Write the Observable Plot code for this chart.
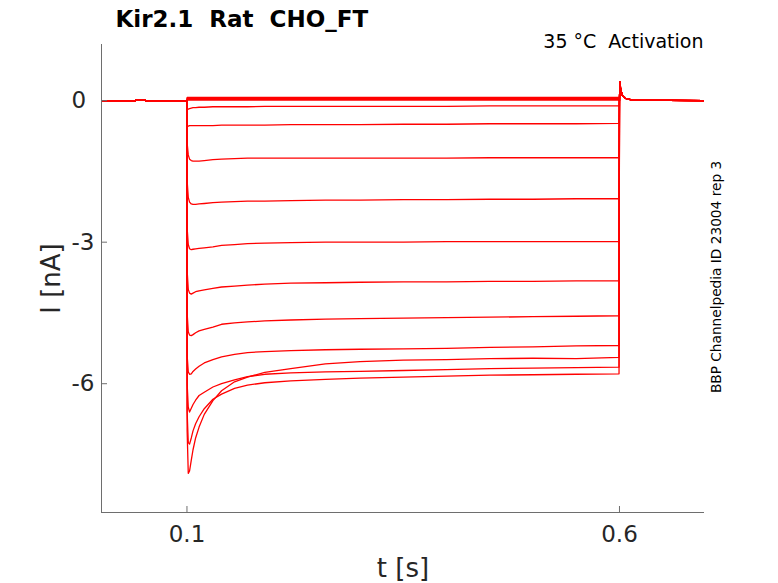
<!DOCTYPE html>
<html><head><meta charset="utf-8">
<script src="https://cdn.jsdelivr.net/npm/d3@7"></script>
<script src="https://cdn.jsdelivr.net/npm/@observablehq/plot@0.6"></script>
<style>body{margin:0;background:#fff;} svg{display:block;}</style>
</head><body><div id="chart"></div>
<script>
const title = "Kir2.1  Rat  CHO_FT";
const subtitle = "35 °C  Activation";
const sideNote = "BBP Channelpedia ID 23004 rep 3";
const xLabel = "t [s]";
const yLabel = "I [nA]";
const xTicks = [0.1, 0.6];
const xTickLabels = ["0.1", "0.6"];
const yTicks = [-6, -3, 0];
const yTickLabels = ["-6", "-3", "0"];
const xDomain = [0.0012, 0.6983];
const yDomain = [-8.73, 1.19];

// baseline before the step, common to all sweeps
const tPre = [0.0012, 0.0405, 0.0410, 0.0515, 0.0520, 0.1000];
const iPre = [0, 0, 0.02, 0.02, 0, 0];
// sample times during the voltage step
const tStep = [0.1002, 0.1015, 0.103, 0.105, 0.107, 0.11, 0.114, 0.12, 0.13, 0.14, 0.155, 0.17, 0.19, 0.22, 0.26, 0.3, 0.35, 0.4, 0.45, 0.5, 0.55, 0.5995];
// tail after the step, common to all sweeps
const tPost = [0.6000, 0.6005, 0.6012, 0.6030, 0.6070, 0.6150, 0.6983];
const iPost = [0.00, 0.40, 0.27, 0.12, 0.05, 0.01, 0.00];

// current (nA) of each sweep during the step
const sweep01 = [0.07,0.07,0.07,0.07,0.07,0.07,0.07,0.07,0.07,0.07,0.07,0.07,0.07,0.07,0.07,0.07,0.07,0.07,0.07,0.07,0.07,0.07];
const sweep02 = [0.05,0.05,0.05,0.05,0.05,0.05,0.05,0.05,0.05,0.05,0.05,0.05,0.05,0.05,0.05,0.05,0.05,0.05,0.05,0.05,0.05,0.05];
const sweep03 = [0.03,0.03,0.03,0.03,0.03,0.03,0.03,0.03,0.03,0.03,0.03,0.03,0.03,0.03,0.03,0.03,0.03,0.03,0.03,0.03,0.03,0.03];
const sweep04 = [0.01,0.01,0.01,0.01,0.01,0.01,0.01,0.01,0.01,0.01,0.01,0.01,0.01,0.01,0.01,0.01,0.01,0.01,0.01,0.01,0.01,0.01];
const sweep05 = [-0.19,-0.18,-0.17,-0.16,-0.15,-0.15,-0.14,-0.14,-0.13,-0.13,-0.13,-0.13,-0.12,-0.12,-0.12,-0.12,-0.12,-0.12,-0.11,-0.11,-0.11,-0.11];
const sweep06 = [-0.55,-0.54,-0.53,-0.53,-0.53,-0.53,-0.53,-0.53,-0.53,-0.52,-0.52,-0.52,-0.52,-0.51,-0.51,-0.51,-0.50,-0.50,-0.49,-0.49,-0.49,-0.48];
const sweep07 = [-0.90,-1.15,-1.24,-1.27,-1.28,-1.28,-1.28,-1.27,-1.25,-1.24,-1.23,-1.22,-1.22,-1.22,-1.22,-1.22,-1.22,-1.22,-1.21,-1.21,-1.21,-1.21];
const sweep08 = [-1.70,-2.05,-2.15,-2.19,-2.20,-2.20,-2.19,-2.18,-2.16,-2.15,-2.14,-2.13,-2.13,-2.12,-2.11,-2.11,-2.10,-2.10,-2.09,-2.09,-2.08,-2.08];
const sweep09 = [-2.70,-3.05,-3.14,-3.16,-3.15,-3.14,-3.13,-3.12,-3.10,-3.07,-3.05,-3.03,-3.02,-3.01,-3.00,-3.00,-3.00,-2.99,-2.99,-2.99,-2.99,-2.99];
const sweep10 = [-3.60,-4.00,-4.08,-4.10,-4.08,-4.05,-4.03,-4.01,-3.98,-3.95,-3.93,-3.91,-3.89,-3.87,-3.86,-3.85,-3.84,-3.84,-3.83,-3.83,-3.82,-3.82];
const sweep11 = [-4.50,-4.90,-4.97,-4.98,-4.96,-4.92,-4.88,-4.85,-4.80,-4.74,-4.71,-4.69,-4.67,-4.65,-4.63,-4.62,-4.61,-4.60,-4.59,-4.58,-4.57,-4.56];
const sweep12 = [-5.40,-5.75,-5.80,-5.79,-5.74,-5.69,-5.63,-5.56,-5.49,-5.43,-5.38,-5.34,-5.32,-5.30,-5.28,-5.27,-5.26,-5.25,-5.23,-5.22,-5.20,-5.19];
const sweep13 = [-6.00,-6.50,-6.60,-6.52,-6.44,-6.35,-6.25,-6.18,-6.07,-6.00,-5.92,-5.85,-5.80,-5.77,-5.75,-5.74,-5.72,-5.70,-5.68,-5.67,-5.66,-5.65];
const sweep14 = [-6.60,-7.25,-7.28,-7.15,-7.00,-6.85,-6.70,-6.53,-6.33,-6.22,-6.10,-6.03,-5.98,-5.94,-5.91,-5.88,-5.86,-5.84,-5.82,-5.81,-5.80,-5.79];
const sweep15 = [-7.00,-7.90,-7.85,-7.62,-7.40,-7.15,-6.92,-6.65,-6.36,-6.15,-5.96,-5.86,-5.76,-5.68,-5.58,-5.53,-5.50,-5.49,-5.47,-5.46,-5.47,-5.44];

const sweeps = [sweep01, sweep02, sweep03, sweep04, sweep05, sweep06, sweep07, sweep08,
                sweep09, sweep10, sweep11, sweep12, sweep13, sweep14, sweep15];

const rows = [];
sweeps.forEach((vals, k) => {
  tPre.forEach((t, j) => rows.push({sweep: k, t, i: iPre[j]}));
  tStep.forEach((t, j) => rows.push({sweep: k, t, i: vals[j]}));
  tPost.forEach((t, j) => rows.push({sweep: k, t, i: iPost[j]}));
});

const font = "DejaVu Sans, Verdana, sans-serif";
const axisGray = "#6e6e6e";
const textGray = "#262626";

const chart = Plot.plot({
  width: 778,
  height: 583,
  marginLeft: 101,
  marginRight: 74,
  marginTop: 44,
  marginBottom: 71,
  style: {fontFamily: font, background: "#fff", color: textGray},
  x: {domain: xDomain, label: null},
  y: {domain: yDomain, label: null},
  marks: [
    Plot.line(rows, {x: "t", y: "i", z: "sweep", stroke: "#ff0000", strokeWidth: 1.3, clip: true}),
    Plot.ruleX([xDomain[0]], {stroke: axisGray, strokeWidth: 1}),
    Plot.ruleY([yDomain[0]], {stroke: axisGray, strokeWidth: 1}),
    Plot.tickX(xTicks, {x: d => d, stroke: axisGray, insetTop: 462}),
    Plot.tickY(yTicks, {y: d => d, stroke: axisGray, insetRight: 597}),
    Plot.axisX(xTicks, {tickSize: 0, tickPadding: 13, fontSize: 23, fill: textGray, label: null,
      tickFormat: d => xTickLabels[xTicks.indexOf(d)]}),
    Plot.axisY(yTicks, {tickSize: 0, tickPadding: 30, textAnchor: "start", fontSize: 23, fill: textGray, label: null,
      tickFormat: d => yTickLabels[yTicks.indexOf(d)]}),
    Plot.text([xLabel], {frameAnchor: "bottom", dy: 64, textAnchor: "middle", lineAnchor: "bottom", fontSize: 26, fill: textGray}),
    Plot.text([yLabel], {frameAnchor: "left", dx: -42, rotate: -90, textAnchor: "middle", lineAnchor: "bottom", fontSize: 26, fill: textGray}),
    Plot.text([title], {frameAnchor: "top-left", dx: 14, dy: -18, textAnchor: "start", lineAnchor: "bottom", fontSize: 23, fontWeight: "bold", fill: "#000"}),
    Plot.text([subtitle], {frameAnchor: "top-right", dx: -1, dy: 3, textAnchor: "end", lineAnchor: "bottom", fontSize: 19, fill: "#000"}),
    Plot.text([sideNote], {frameAnchor: "right", dx: 16, dy: -1.5, rotate: -90, textAnchor: "middle", lineAnchor: "bottom", fontSize: 13.7, fill: "#000"})
  ]
});
document.getElementById("chart").appendChild(chart);
</script>
</body></html>
